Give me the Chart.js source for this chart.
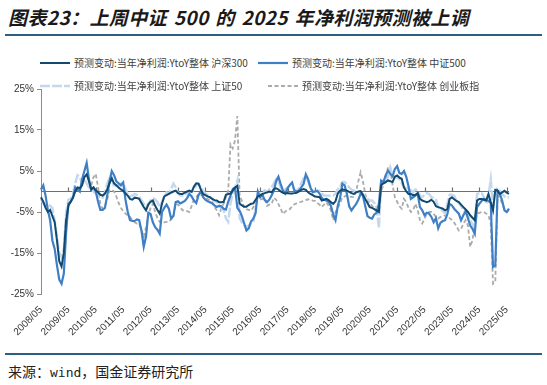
<!DOCTYPE html>
<html>
<head>
<meta charset="utf-8">
<script src="https://cdn.jsdelivr.net/npm/chart.js@4.4.1/dist/chart.umd.min.js"></script>
<style>
  body { margin: 0; width: 547px; height: 385px; background: #fff; position: relative; overflow: hidden; font-family: "Noto Sans CJK SC", sans-serif; }
  #title { position: absolute; left: 8px; top: 3px; font-size: 19px; letter-spacing: 0.4px; word-spacing: 2px; font-weight: bold; font-style: italic; color: #1a1a1a; white-space: nowrap; }
  .rule { position: absolute; left: 5px; width: 537px; height: 2px; background: #2f5f80; }
  #chartBox { position: absolute; left: 0; top: 80px; width: 547px; height: 266px; }
  #legend .item { position: absolute; display: flex; align-items: center; font-size: 10px; color: #404040; white-space: nowrap; }
  #legend svg { margin-right: 4px; }
  #source { position: absolute; left: 8px; top: 361px; font-size: 14px; color: #222; white-space: nowrap; }
  #source .w { font-family: "DejaVu Sans Mono", monospace; font-size: 13px; }
</style>
</head>
<body>
<div id="title">图表23：上周中证 500 的 2025 年净利润预测被上调</div>
<div class="rule" style="top:34px"></div>
<div id="chartBox"><canvas id="chart"></canvas></div>
<div id="legend"></div>
<div class="rule" style="top:353px"></div>
<div id="source">来源：<span class="w">wind</span>，国金证券研究所</div>

<script>
// monthly axis, 2008/05 .. 2025/06
const months = [];
for (let y = 2008, m = 5; months.length < 206; ) {
    months.push(`${y}/${String(m).padStart(2, '0')}`);
    if (++m > 12) { m = 1; y++; }
}

// 沪深300 (% change of forecast)
const hs300 = [
    -1.4, -2.5, -4, -5, -4.5, -6, -7.5, -12, -17, -18.3, -15, -7,
    -3.5, -2.5, -1.5, 0, 1, 0.8, 1.5, 3.5, 4.2, 2.5, 0.5, 1,
    0.3, -0.2, -0.8, -1, -0.5, 0.5, 2, 3.2, 2, 1.5, 1, 0.5,
    0.2, -0.5, -1, -1.8, -2, -1.5, -1.6, -1.8, -2.8, -3.8, -4.6, -3.2,
    -2.5, -2.2, -3.5, -4.5, -5.4, -3, -1.2, -0.9, -0.6, -0.3, 0, 0.2,
    -0.4, -0.6, -0.6, -0.3, 0, 0.2, -0.1, 1.2, 2, 1.9, 0.5, -0.6,
    -0.9, -1.2, -1.4, -1.8, -2.1, -2.2, -2.6, -2.6, -2.5, -0.8, -0.6, -0.5,
    0.2, 1, 1.4, -2.9, -3.4, -3.7, -3.7, -3.3, -3, -2.9, -2, -1.2,
    -1, -0.6, -0.4, -0.2, 0, -0.2, 0.6, 0.8, 0.5, 0, -0.3, -0.5,
    -0.4, -0.5, -0.5, -0.4, -0.3, 0, 0.4, 0.6, 0.4, -0.2, -0.6, -0.9,
    -1.2, -1.3, -1.4, -2.2, -2, -1.8, -2.1, -2.6, -3, -2.4, -0.5, 0.2,
    0.5, 0.4, 0.2, -0.1, -0.4, -0.6, -0.2, 0, 0.1, -0.8, -1.8, -2.8,
    -3.8, -4, -4.3, -4.6, -5, 1.5, 2, 2.3, 2.7, 2.5, 2.3, 3.6,
    3.9, 3.4, 3.1, 1, 0, -0.6, -0.6, -0.9, -0.8, -0.4, -1.8, -2.2,
    -2.4, -2.6, -2.4, -2, -2.5, -3.6, -3.8, -4, -4.2, -4.6, -4.3, -1.8,
    -1.4, -1.9, -2.3, -2.6, -3.2, -3.8, -4.4, -5, -5.8, -6.4, -7, -2.2,
    -1.8, -1.8, -2, -2.2, -0.6, -2.6, -4.6, 0.4, 0.2, -0.6, -0.2, 0.2,
    -0.3, -0.6
];

// 中证500
const zz500 = [
    0.5, 1.5, -1, -4.5, -7, -12, -14, -18, -21.5, -22.5, -20, -10,
    -3, -2.5, -1.5, 1, 0.5, 0, 3, 5, 7, 3, 0.5, 1,
    0, -2.5, -4.5, -4.5, -4, -1, 2.5, 5, 4, 2.5, 2, 1.5,
    2.2, -2, -5, -7, -7.2, -7.2, -6.8, -7, -9.5, -13.5, -11, -5.2,
    -5.5, -7.5, -8.7, -9.3, -10.3, -5, -4, -3.2, -4.2, -6.6, -6, -2.6,
    -2.4, -2.9, -2.6, -2.3, -1.6, -0.6, -1.2, -2.2, -2.8, -0.9, 0.1, -1.4,
    -2, -2.4, -2.6, -2.9, -3.4, -3.8, -3.5, -3.6, -4.2, -4.4, -2.5, -1,
    0.6, 0.9, -4, -4.7, -6, -7.8, -9.5, -9, -7.3, -6.6, -5.3, 0,
    -1.4, -0.8, -2.1, -2.6, -2, -1, 0.2, 2.5, 3.6, 1.8, 0.2, -0.5,
    0.8, 1.6, 2.2, 0.2, 0, 0.2, 1, 1.8, 4.2, 3, 1, -0.2,
    0, 0.2, -0.5, -1.6, -2, -2.2, -2.5, -3.5, -5.6, -7, -3.5, -1.6,
    1.9, 1.5, -0.6, -3.6, -4.6, -3.8, -3.1, -2, -0.6, -1, -3.5, -6,
    -6.4, -6.6, -5.6, -5.2, -3, 2.7, 2.3, 4, 5.1, 4.3, 3.7, 5.5,
    6.2, 4.5, 4.3, 5, 3.6, 1.2, -1.8, -1.4, -1, -0.6, -3.8, -4.6,
    -5.8, -5.2, -5.4, -6.2, -7.5, -6.5, -9, -7.6, -7.2, -7, -5.5, -3,
    -3.4, -4.2, -4.8, -5.4, -7, -5.8, -4.8, -6.5, -8.3, -9.1, -10.3, -3.8,
    -3, -2.3, -1.8, -2, -2.3, -2.8, -18.4, -18, 0.2, -0.6, -2.2, -4.6,
    -5, -4.2
];

// 上证50
const sz50 = [
    -1.8, -2.8, -3.5, -3.2, -3.5, -4, -7, -11, -15, -16, -14, -5,
    -2, -1.8, -0.5, 2, 4, 3.5, 2, 3, 2, 1, 0.5, 0,
    -0.5, -1, -1.2, -1.5, -0.3, 2, 3.2, 3.5, 1, 1.5, 1.5, 1.9,
    2.2, 0.6, -0.6, -1.2, -1, -0.6, -0.8, -1.2, -2.2, -3, -3.8, -3,
    -2.2, -1.6, -1.9, -2.6, -3.8, -2.5, -1.2, -0.2, -0.5, 0.6, 1.9, 1,
    -0.4, -1, -1, -0.8, -0.5, -0.2, 0, 0.4, 1.5, 1.9, 1.2, 0,
    -0.4, -0.9, -1.4, -1.8, -2.3, -2.6, -3.3, -4, -4.6, -6.5, -7.4, -3,
    -0.5, 0.8, 2.7, -6.5, -7.5, -8.3, -8.6, -8.3, -7.8, -7.6, -4, -0.5,
    -0.8, 0, 0.3, -0.2, 0.5, 1, 2, 3, 2.5, 1, 0, 0.5,
    1, 1.5, 1.2, 0.5, 0.2, 0.8, 2, 3.2, 3.5, 2.5, 1.2, 0.3,
    0, 0, 0.2, -0.5, -1, -1, -1, -1, -1, -0.5, 0.5, 1.2,
    2.3, 2.3, 1.8, 1, 0.5, 0.2, 0, -0.2, -0.4, -0.6, -1.2, -1.8,
    -2.2, -2.2, -2.8, -4, -9, 1.9, 2.1, 2.3, 3.5, 5.9, 3.9, 3.5,
    3.3, 3.1, 2, 1, 0.8, 0.6, 0.3, -0.2, 0.5, 0.2, -1, -1.4,
    -0.8, -0.4, -0.6, -1.4, -1.6, -2, -3.8, -4.2, -4.8, -5.4, -3, -0.8,
    -0.8, -1, -2.2, -2.8, -3.6, -4.4, -5.2, -6, -7, -8, -9, -0.6,
    -0.4, -0.4, -1.4, -3, -1, 3, -3.8, 0, 0.2, 0.2, -0.6, -1.2,
    -1.4, -1.4
];

// 创业板指 (starts 2010/03)
const cyb = [
    null, null, null, null, null, null, null, null, null, null, null, null,
    null, null, null, null, null, null, null, null, null, null, 1.5, 3.5,
    4.3, 1, -3, -4.2, -3.5, -2, 0.3, 0.5, 0, -1.2, -2.8, -4,
    -4.8, -5.4, -5.8, -6.2, -7, -7.5, -7.8, -7.8, -9.5, -11, -8.7, -6,
    -4, -3, -5, -6.5, -7.4, -7.8, -7.5, -7.4, -7.4, -6.8, -6.2, -3,
    -3.2, -3.8, -4.6, -4.6, -4.8, -5, -3.5, -2, -1.4, -0.6, -0.8, -1,
    -1.4, -1.8, -2.2, -2.6, -3.8, -4.6, -5.8, -4, -3, -1.4, 0.2, 11.5,
    10.5, 12.5, 18.4, -1, -2.3, -3.9, -4.3, -4.5, -4.7, -3.8, -3, -2.3,
    -2, -1.8, -1.5, -3.5, -3.2, -3.1, -1.5, -2, -3.1, -4.2, -5.5, -4.9,
    -4.5, -4.3, -3.6, -3.1, -2.9, -2.7, -2.5, -2.3, -2.1, -1.9, -2, -2.2,
    -2.3, -2.8, -3.2, -3.8, -3.2, -2.6, -3.5, -4.6, -7, -5, -4, -3,
    -1.4, -1.2, -1, -1.2, -1.3, -1.4, 0, 2.5, 4.7, 2.5, -0.5, -2.5,
    -2.6, -3.5, -4.2, -5, -3.8, 0.2, 1.5, 2.7, 5.9, 5.5, 1.5, -1.4,
    -2.5, -3.6, -4.2, -1.8, -2.6, -4, -5, -4.6, -3, -4.5, -7, -7.8,
    -6.6, -5.5, -5, -5, -5.5, -6.2, -6.6, -6.2, -6, -5.8, -5.8, -6.5,
    -7, -7.6, -8.5, -9.5, -9.2, -7.8, -7, -8.3, -13.5, -11.9, -7.8, -5.4,
    -5.2, -5, -5, -5.4, -5.8, -7.8, -22.5, -22, -1, -1.4, -3, -4.2,
    -5, -4.6
];

const yTicks = [-25, -15, -5, 5, 15, 25];

const series = [
    { name: '预测变动:当年净利润:YtoY整体 沪深300', data: hs300, color: '#12496f', width: 2, dash: [] },
    { name: '预测变动:当年净利润:YtoY整体 中证500', data: zz500, color: '#3f7fc6', width: 2.2, dash: [] },
    { name: '预测变动:当年净利润:YtoY整体 上证50', data: sz50, color: '#c3d8ef', width: 2.4, dash: [10, 2] },
    { name: '预测变动:当年净利润:YtoY整体 创业板指', data: cyb, color: '#ababab', width: 1.8, dash: [4, 2.5] }
];

// legend (two rows, like the source)
const legendSpots = [[40, 55], [258, 55], [40, 78], [268, 78]];
const legendBox = document.getElementById('legend');
series.forEach((s, k) => {
    const item = document.createElement('div');
    item.className = 'item';
    item.style.left = legendSpots[k][0] + 'px';
    item.style.top = legendSpots[k][1] + 'px';
    item.innerHTML = `<svg width="30" height="6"><line x1="0" y1="3" x2="30" y2="3" stroke="${s.color}" stroke-width="${s.width}" stroke-dasharray="${s.dash.join(' ')}"/></svg><span>${s.name}</span>`;
    legendBox.appendChild(item);
});

// zero line with small year ticks, drawn under the series
const zeroAxis = {
    id: 'zeroAxis',
    beforeDatasetsDraw(chart) {
        const { ctx, chartArea, scales: { x, y } } = chart;
        const y0 = y.getPixelForValue(0);
        ctx.save();
        ctx.strokeStyle = '#6e6e6e';
        ctx.lineWidth = 1.2;
        ctx.beginPath();
        ctx.moveTo(chartArea.left, y0);
        ctx.lineTo(chartArea.right, y0);
        x.ticks.forEach((t, k) => {
            const px = Math.round(x.getPixelForTick(k)) + 0.5;
            ctx.moveTo(px, y0);
            ctx.lineTo(px, y0 - 4);
        });
        ctx.stroke();
        ctx.restore();
    }
};

const tickFont = { family: '"Liberation Sans", Arial, sans-serif', size: 10 };

new Chart(document.getElementById('chart'), {
    type: 'line',
    data: {
        labels: months,
        datasets: series.map(s => ({
            label: s.name,
            data: s.data,
            borderColor: s.color,
            borderWidth: s.width,
            borderDash: s.dash,
            pointRadius: 0,
            tension: 0,
            fill: false,
            spanGaps: false
        }))
    },
    options: {
        responsive: true,
        maintainAspectRatio: false,
        animation: false,
        layout: { padding: { top: 8, right: 38, left: 0, bottom: 0 } },
        plugins: { legend: { display: false }, tooltip: { enabled: false } },
        scales: {
            x: {
                type: 'category',
                offset: false,
                grid: { display: false },
                border: { display: false },
                ticks: {
                    autoSkip: false,
                    minRotation: 45,
                    maxRotation: 45,
                    padding: 2,
                    color: '#333',
                    font: tickFont,
                    callback: v => months[v]
                },
                afterBuildTicks: s => { s.ticks = s.ticks.filter(t => months[t.value].endsWith('/05')); },
                afterFit: s => { s.height = 52; }
            },
            y: {
                min: -25,
                max: 25,
                afterBuildTicks: s => { s.ticks = yTicks.map(v => ({ value: v })); },
                ticks: { color: '#333', font: tickFont, padding: 3, callback: v => v + '%' },
                grid: { drawOnChartArea: false, tickLength: 4, color: '#8c8c8c' },
                border: { color: '#8c8c8c', width: 1 },
                afterFit: s => { s.width = 41; }
            }
        }
    },
    plugins: [zeroAxis]
});
</script>
</body>
</html>
